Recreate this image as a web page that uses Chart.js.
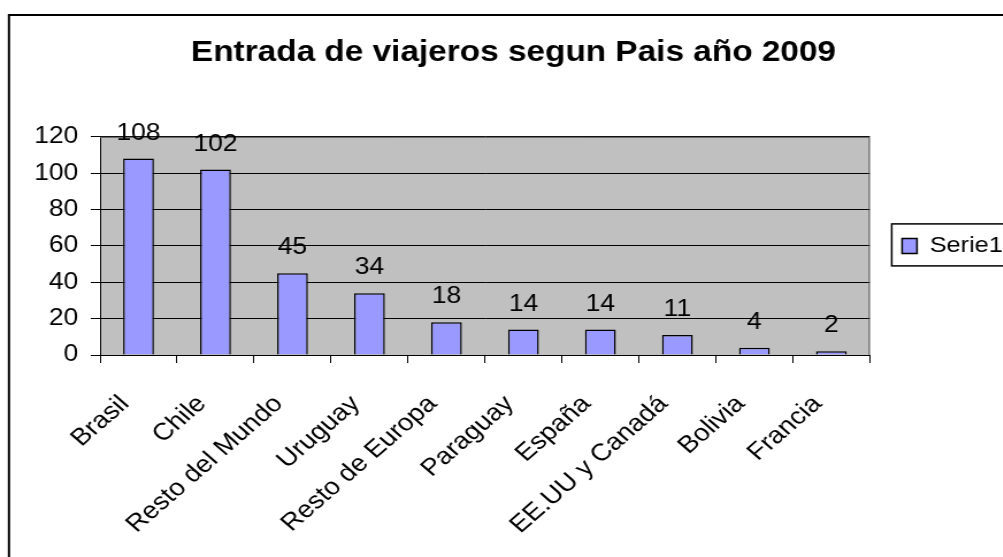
<!DOCTYPE html>
<html>
<head>
<meta charset="utf-8">
<script src="https://cdn.jsdelivr.net/npm/chart.js@4"></script>
<style>
  html, body { margin: 0; padding: 0; background: #fff; overflow: hidden; }
  #wrap { width: 1003px; height: 557px; overflow: hidden; position: relative; }
  /* the reference is stretched horizontally, so the canvas is too */
  #chart { display: block; transform: scaleX(1.15); transform-origin: 0 0; }
</style>
</head>
<body>
<div id="wrap"><canvas id="chart" width="882" height="557"></canvas></div>
<script>
const chartTitle = "Entrada de viajeros segun Pais año 2009";
const seriesName = "Serie1";
const countries = ["Brasil", "Chile", "Resto del Mundo", "Uruguay", "Resto de Europa",
                   "Paraguay", "España", "EE.UU y Canadá", "Bolivia", "Francia"];
const travelers = [108, 102, 45, 34, 18, 14, 14, 11, 4, 2];
const yTicks = [0, 20, 40, 60, 80, 100, 120];

Chart.defaults.font.family = "'Liberation Sans', Arial, sans-serif";
Chart.defaults.color = "#000";

// white page, outer frame, grey plot area, data labels, legend frame
const excelLook = {
  id: "excelLook",
  beforeDraw(chart) {
    const { ctx, chartArea: a } = chart;
    ctx.save();
    ctx.fillStyle = "#fff";
    ctx.fillRect(0, 0, chart.width, chart.height);
    ctx.strokeStyle = "#000";
    ctx.lineWidth = 2;
    ctx.strokeRect(7.8, 15, chart.width + 20, chart.height + 20);
    ctx.fillStyle = "#c0c0c0";
    ctx.fillRect(a.left, a.top, a.right - a.left, a.bottom - a.top);
    ctx.restore();
  },
  beforeDatasetsDraw(chart) {
    const { ctx, chartArea: a } = chart;
    ctx.save();
    ctx.strokeStyle = "#555";
    ctx.lineWidth = 1;
    ctx.beginPath();
    ctx.moveTo(a.left, a.top + 0.5);
    ctx.lineTo(a.right - 0.5, a.top + 0.5);
    ctx.lineTo(a.right - 0.5, a.bottom);
    ctx.stroke();
    ctx.restore();
  },
  afterDatasetsDraw(chart) {
    const { ctx } = chart;
    const meta = chart.getDatasetMeta(0);
    ctx.save();
    ctx.font = "23px 'Liberation Sans', Arial, sans-serif";
    ctx.fillStyle = "#000";
    ctx.textAlign = "center";
    ctx.textBaseline = "alphabetic";
    meta.data.forEach((bar, i) => {
      ctx.fillText(String(travelers[i]), bar.x, bar.y - 19);
    });
    ctx.restore();
  },
  afterDraw(chart) {
    const { ctx, chartArea: a } = chart;
    const lg = chart.legend;
    const cy = (a.top + a.bottom) / 2;
    ctx.save();
    ctx.strokeStyle = "#000";
    ctx.lineWidth = 1.5;
    ctx.strokeRect(lg.left + 19, cy - 22, 300, 42);
    ctx.restore();
  }
};

new Chart(document.getElementById("chart"), {
  type: "bar",
  data: {
    labels: countries,
    datasets: [{
      label: seriesName,
      data: travelers,
      backgroundColor: "#9999ff",
      borderColor: "#000",
      borderWidth: 1.5,
      categoryPercentage: 1,
      barPercentage: 0.4
    }]
  },
  options: {
    responsive: false,
    animation: false,
    devicePixelRatio: 1,
    layout: { padding: { left: 11, right: 0, top: 0, bottom: 0 } },
    plugins: {
      title: {
        display: true,
        text: chartTitle,
        font: { size: 29, weight: "bold" },
        color: "#000",
        padding: { top: 36, bottom: 66 }
      },
      legend: {
        position: "right",
        fullSize: false,
        labels: {
          boxWidth: 13,
          boxHeight: 15,
          padding: 28,
          font: { size: 22 },
          color: "#000"
        }
      },
      tooltip: { enabled: false }
    },
    scales: {
      x: {
        grid: {
          offset: true,
          drawOnChartArea: false,
          color: "#000",
          tickLength: 8
        },
        border: { color: "#000", width: 1 },
        ticks: {
          minRotation: 45,
          maxRotation: 45,
          autoSkip: false,
          padding: 27,
          labelOffset: -12,
          font: { size: 24 }
        },
        afterFit(scale) { scale.height = 202; }
      },
      y: {
        min: yTicks[0],
        max: yTicks[yTicks.length - 1],
        grid: { color: "#000", tickLength: 8 },
        border: { color: "#000", width: 1 },
        ticks: { padding: 11, font: { size: 23 } },
        afterBuildTicks(scale) { scale.ticks = yTicks.map(v => ({ value: v })); },
        afterFit(scale) { scale.width = 76; }
      }
    }
  },
  plugins: [excelLook]
});
</script>
</body>
</html>
